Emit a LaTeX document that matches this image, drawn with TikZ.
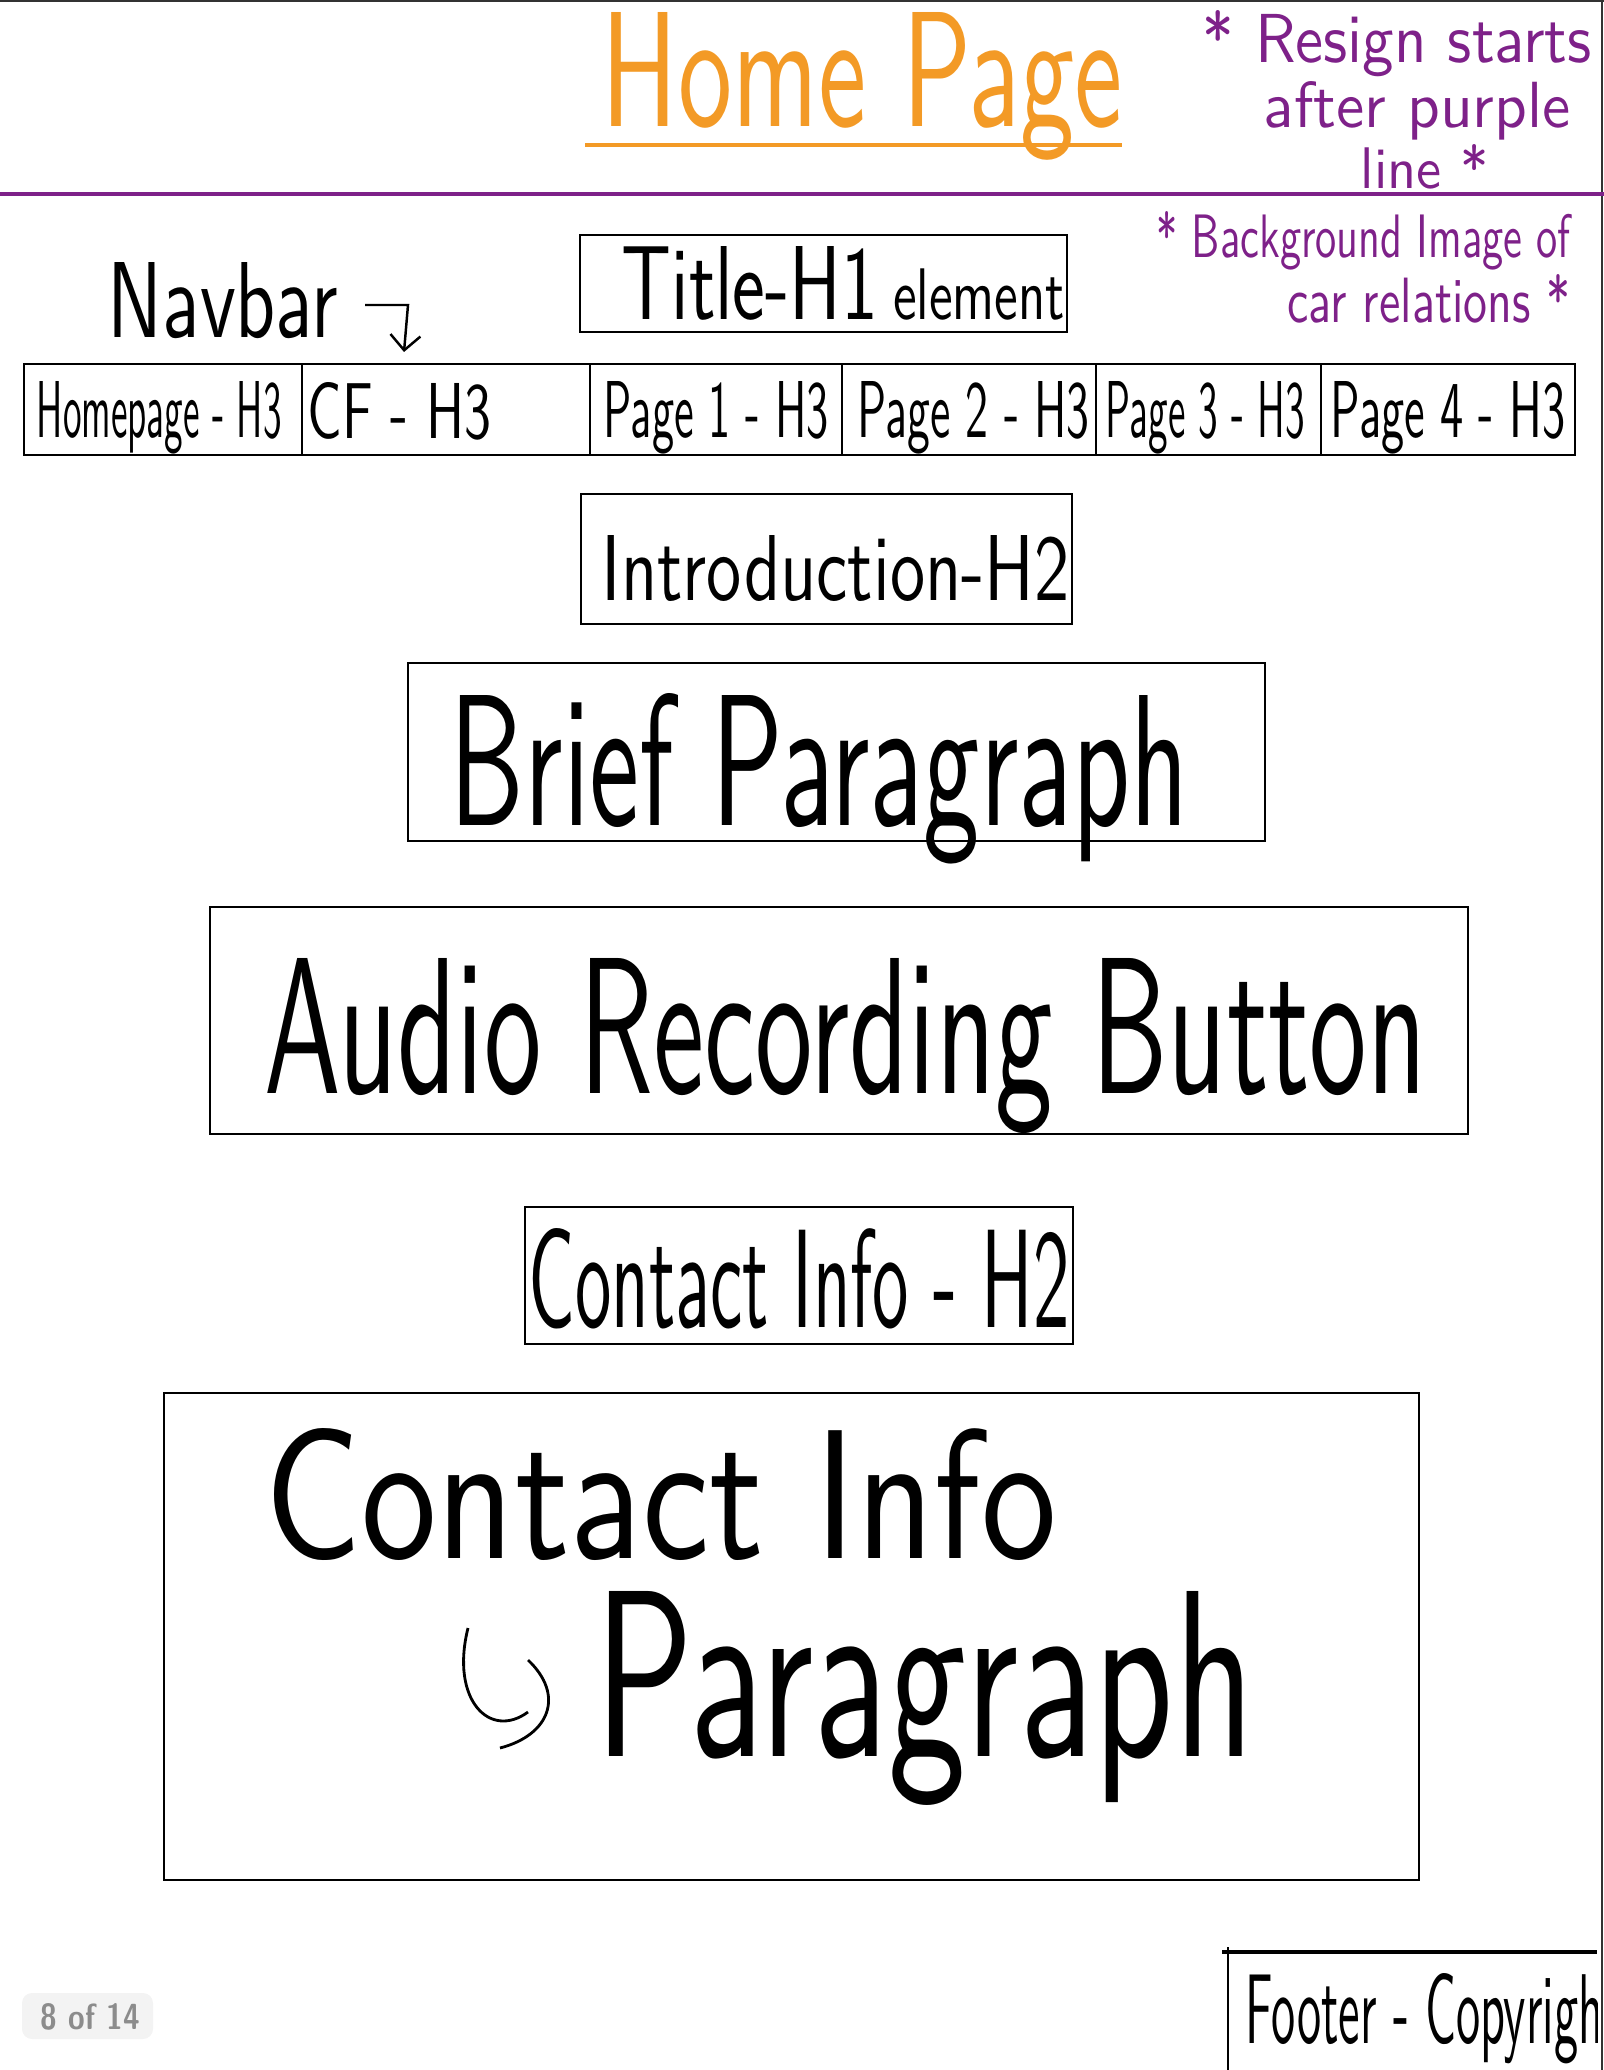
\documentclass[tikz,border=0pt]{standalone}
\usepackage{graphicx}
\usepackage{tikz}
\usetikzlibrary{calc,arrows.meta}
\definecolor{penorange}{RGB}{243,154,38}
\definecolor{penpurple}{RGB}{126,33,137}
\definecolor{pillgray}{RGB}{243,243,243}
\definecolor{pilltext}{RGB}{140,140,140}
\newlength\pxu
\setlength\pxu{0.01cm}
% text squeezed to a given width and height (in px)
\def\hand#1#2#3{\resizebox{#1\pxu}{#2\pxu}{\sffamily #3}}
\tikzset{
  box/.style={line width=0.7pt},
  lbl/.style={anchor=base west, inner sep=0pt},
}

\begin{document}
\begin{tikzpicture}[x=0.01cm, y=-0.01cm]
			%%%%% START %%%%%
			\useasboundingbox (0,0) rectangle (1604,2070);
			
			\draw[line width=0.6pt, black!80] (0,1) -- (1604,1);
			\draw[line width=0.6pt, black!80] (1602,0) -- (1602,2070);
			
			\node[lbl, color=penorange] (home) at (601,127) {\hand{521}{114}{Home Page}};
			\draw[line width=1pt, color=penorange] (585,145) -- (1122,145);
			
			\node[lbl, color=penpurple] (resign1) at (1202,63) {\hand{389}{52}{* Resign starts}};
			\node[lbl, color=penpurple] (resign2) at (1263,128) {\hand{307}{46}{after purple}};
			\node[lbl, color=penpurple] (resign3) at (1360,189) {\hand{128}{44}{line *}};
			\draw[line width=1pt, color=penpurple] (0,194) -- (1604,194);
			
			\node[lbl, color=penpurple] (bgimg1) at (1156,258) {\hand{414}{46}{* Background Image of}};
			\node[lbl, color=penpurple] (bgimg2) at (1287,323) {\hand{283}{48}{car relations *}};
			
			\node[lbl] (navlabel) at (107,338) {\hand{230}{75}{Navbar}};
			\coordinate (navarr) at (365,305);
			\draw[line width=0.7pt, -{Straight Barb[length=1.5mm,width=3mm]}] (navarr) -- ++(43,0) -- ++(-4,47);
			
			\draw[box] (580,235) rectangle (1067,332);
			\node[lbl] (title) at (621,320) {\hand{443}{73}{{\LARGE Title-H1} {\large element}}};
			
			\draw[box] (24,364) rectangle (1575,455);
			\foreach \xx in {302,590,842,1096,1321}
				\draw[line width=0.5pt] (\xx,364) -- (\xx,455);
			\node[lbl] (nav1) at (36,438) {\hand{245}{56}{Homepage - H3}};
			\node[lbl] (nav2) at (307,438) {\hand{184}{56}{CF - H3}};
			\node[lbl] (nav3) at (603,438) {\hand{225}{56}{Page 1 - H3}};
			\node[lbl] (nav4) at (857,438) {\hand{232}{56}{Page 2 - H3}};
			\node[lbl] (nav5) at (1105,438) {\hand{199}{56}{Page 3 - H3}};
			\node[lbl] (nav6) at (1330,438) {\hand{235}{56}{Page 4 - H3}};
			
			\draw[box] (581,494) rectangle (1072,624);
			\node[lbl] (intro) at (601,600) {\hand{468}{65}{Introduction-H2}};
			
			\draw[box] (408,663) rectangle (1265,841);
			\node[lbl] (brief) at (449,825) {\hand{739}{132}{Brief Paragraph}};
			
			\draw[box] (210,907) rectangle (1468,1134);
			\node[lbl] (audio) at (264,1093) {\hand{1162}{135}{Audio Recording Button}};
			
			\draw[box] (525,1207) rectangle (1073,1344);
			\node[lbl] (contacth2) at (528,1327) {\hand{541}{99}{Contact Info - H2}};
			
			\draw[box] (164,1393) rectangle (1419,1880);
			\node[lbl] (contact) at (264,1558) {\hand{792}{130}{Contact Info}};
			\node[lbl] (para) at (594,1756) {\hand{660}{165}{Paragraph}};
			\draw[line width=0.8pt] (468,1628) .. controls (450,1700) and (490,1740) .. (528,1712);
			\draw[line width=0.8pt] (528,1660) .. controls (565,1695) and (550,1735) .. (500,1748);
			
			\draw[line width=0.6pt] (1228,1947) -- (1228,2070);
			\draw[line width=1.1pt] (1222,1952) -- (1597,1952);
			\begin{scope}
				\clip (1230,1955) rectangle (1597,2070);
				\node[lbl] (footer) at (1245,2043) {\hand{375}{70}{Footer - Copyright}};
			\end{scope}
			
			\fill[pillgray, rounded corners=10\pxu] (22,1993) rectangle (153,2039);
			\node[lbl, color=pilltext] (pages) at (40,2029) {\hand{99}{26}{\bfseries 8 of 14}};
			
			%%%%% END %%%%%
		\end{tikzpicture}
\end{document}
